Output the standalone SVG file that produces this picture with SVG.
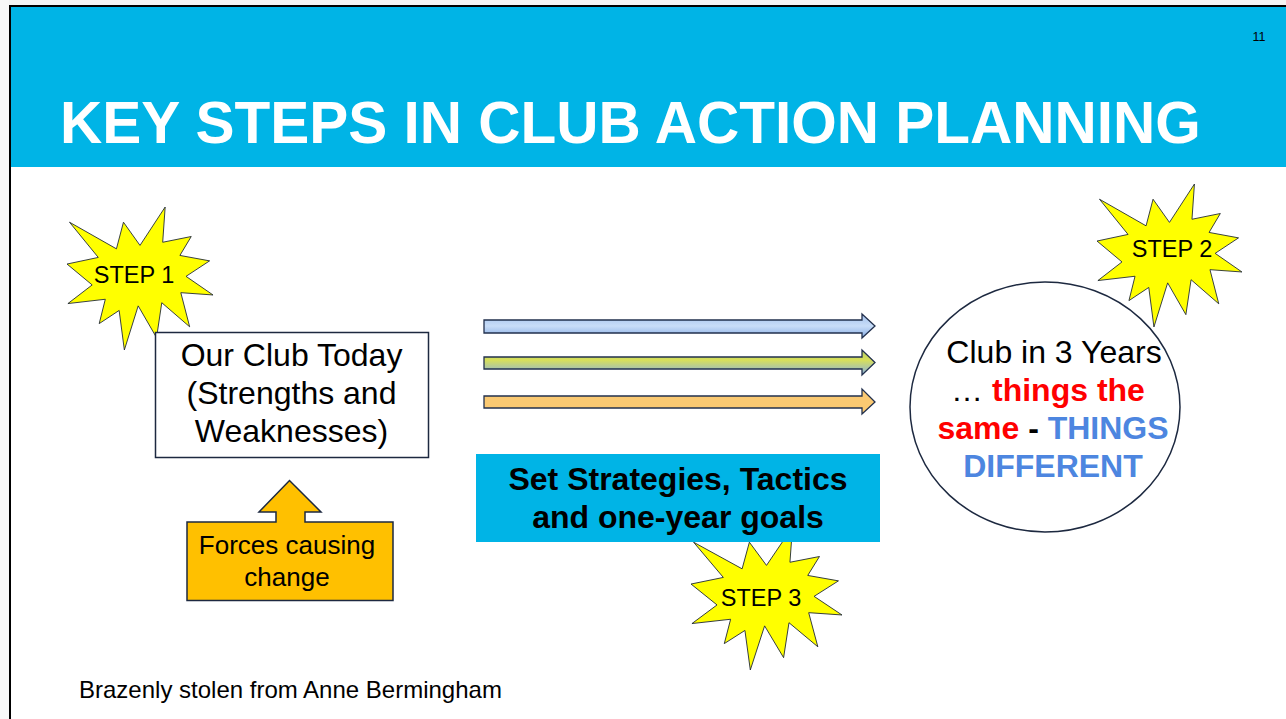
<svg xmlns="http://www.w3.org/2000/svg" width="1286" height="719" viewBox="0 0 1286 719">
<style>
.t{font-family:"Liberation Sans",Arial,sans-serif}
.star{fill:#FFFF00;stroke:#1c2535;stroke-width:1.3;vector-effect:non-scaling-stroke;stroke-linejoin:miter}
.st{font-size:23.5px;fill:#000;text-anchor:middle}
.arr{stroke:#22304d;stroke-width:1.3;stroke-linejoin:miter}
.big{font-size:32px;text-anchor:middle}
</style>
<defs>
<path id="seal" d="M108,58 L145.22,0 L141.55,53.25 L183.8,44.57 L167.02,73.15 L210.97,81.37 L176.07,104.75 L216,132.9 L168.37,129.42 L181.45,180.95 L140.2,144.57 L132.47,197.37 L105.32,149.35 L84.85,216 L77.15,156.27 L47.62,176.17 L56.67,139.37 L1.35,145.87 L37.22,117.75 L0,86.15 L46.27,76.17 L3.7,22.95 L73.12,63.2 L83.52,22.95 Z"/>
<linearGradient id="g1" x1="0" y1="0" x2="0" y2="1">
<stop offset="0" stop-color="#a3c1ec"/><stop offset="0.5" stop-color="#c8ddf8"/><stop offset="1" stop-color="#86ace3"/>
</linearGradient>
<linearGradient id="g2" x1="0" y1="0" x2="0" y2="1">
<stop offset="0" stop-color="#b5cf66"/><stop offset="0.4" stop-color="#d8e05a"/><stop offset="1" stop-color="#88b0e4"/>
</linearGradient>
</defs>
<rect x="0" y="0" width="1286" height="719" fill="#ffffff"/>
<rect x="0" y="0" width="1286" height="5" fill="#f4f4f4"/>
<rect x="0" y="0" width="9" height="719" fill="#f8f8f8"/>
<rect x="11" y="7" width="1275" height="160" fill="#00b4e6"/>
<line x1="10" y1="6" x2="1286" y2="6" stroke="#000" stroke-width="2"/>
<line x1="10" y1="5" x2="10" y2="719" stroke="#000" stroke-width="2"/>
<text class="t" x="60" y="143" font-size="58.5" font-weight="bold" fill="#ffffff">KEY STEPS IN CLUB ACTION PLANNING</text>
<text class="t" x="1259" y="41" font-size="12.5" fill="#000" text-anchor="middle">11</text>

<g id="connectors">
<path class="arr" fill="url(#g1)" d="M484,320 H862 V314 L875,326 L862,338 V333 H484 Z"/>
<path class="arr" fill="url(#g2)" d="M484,357 H862 V350 L875,362.5 L862,375 V369 H484 Z"/>
<path class="arr" fill="#fac972" d="M484,396 H862 V389 L875,402 L862,414 V408 H484 Z"/>
</g>

<g id="step1">
<use href="#seal" class="star" transform="translate(67,207) scale(0.676,0.662)"/>
<text class="t st" x="134" y="283">STEP 1</text>
</g>

<g id="today">
<rect x="155.5" y="332.5" width="273" height="125" fill="#ffffff" stroke="#1d2940" stroke-width="1.5"/>
<text class="t big" x="291.5" y="366">Our Club Today</text>
<text class="t big" x="291.5" y="404">(Strengths and</text>
<text class="t big" x="291.5" y="442">Weaknesses)</text>
</g>

<g id="forces">
<path d="M187,522 H276 V512 H259 L289.5,480.5 L321,512 H305 V522 H393 V600.5 H187 Z" fill="#ffc000" stroke="#1d2940" stroke-width="1.5"/>
<text class="t" x="287" y="554" font-size="26" text-anchor="middle">Forces causing</text>
<text class="t" x="287" y="586" font-size="26" text-anchor="middle">change</text>
</g>

<g id="step3">
<use href="#seal" class="star" transform="translate(691,527) scale(0.699,0.662)"/>
<text class="t st" x="761" y="606">STEP 3</text>
</g>

<g id="strategies">
<rect x="476" y="454" width="404" height="88" fill="#00b4e6"/>
<text class="t big" x="678" y="490" font-weight="bold">Set Strategies, Tactics</text>
<text class="t big" x="678" y="528" font-weight="bold">and one-year goals</text>
</g>

<g id="future">
<ellipse cx="1045" cy="407" rx="135" ry="125" fill="#ffffff" stroke="#1d2940" stroke-width="1.5"/>
<text class="t big" x="1054" y="363">Club in 3 Years</text>
<text class="t big" x="1048" y="401"><tspan>… </tspan><tspan font-weight="bold" fill="#ff0000">things the</tspan></text>
<text class="t big" x="1053" y="439" font-weight="bold"><tspan fill="#ff0000">same</tspan><tspan fill="#000"> - </tspan><tspan fill="#4d86e0">THINGS</tspan></text>
<text class="t big" x="1053" y="477" font-weight="bold" fill="#4d86e0">DIFFERENT</text>
</g>

<g id="step2">
<use href="#seal" class="star" transform="translate(1097,184) scale(0.671,0.662)"/>
<text class="t st" x="1172" y="257">STEP 2</text>
</g>

<text class="t" x="79" y="698" font-size="24" fill="#000">Brazenly stolen from Anne Bermingham</text>
</svg>
